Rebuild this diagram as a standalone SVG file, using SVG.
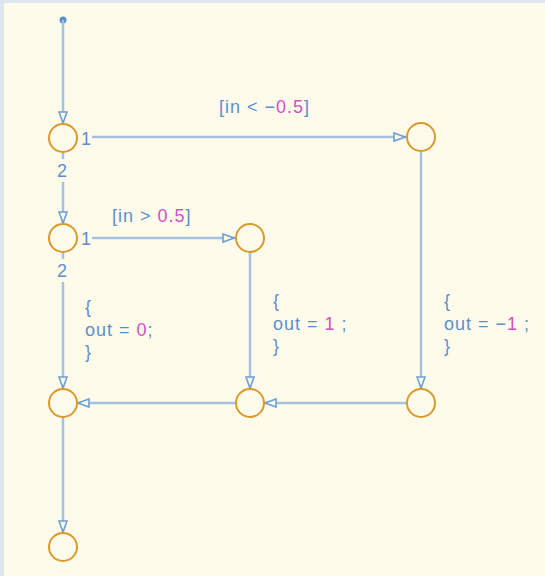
<svg xmlns="http://www.w3.org/2000/svg" width="545" height="576" viewBox="0 0 545 576">
<defs>
<style>
.bg{fill:#fffbeb}
.frame{fill:#dde5f1}
.j{fill:none;stroke:#d99a2b;stroke-width:2}
.t{fill:none;stroke:#a3c2e2;stroke-width:2.5}
.lbl{font-family:"Liberation Sans",Arial,sans-serif;font-size:18px;letter-spacing:1px;fill:#5b8fcc}
.num{fill:#d24fc4}
</style>
<marker id="ah" viewBox="0 0 13 11" refX="13" refY="5.5" markerWidth="13" markerHeight="11" markerUnits="userSpaceOnUse" orient="auto">
<path d="M1,1.5 L12,5.5 L1,9.5 Z" fill="#fffbeb" stroke="#6d9fd4" stroke-width="1.6"/>
</marker>
</defs>
<rect class="frame" x="0" y="0" width="545" height="576"/>
<rect class="bg" x="4" y="3" width="541" height="573"/>
<g id="connectors">
<circle cx="63" cy="20" r="3.5" fill="#5b8fcc"/>
<line class="t" x1="63" y1="20" x2="63" y2="124" marker-end="url(#ah)"/>
<line class="t" x1="92" y1="137" x2="406" y2="137" marker-end="url(#ah)"/>
<line class="t" x1="63" y1="152" x2="63" y2="159"/>
<line class="t" x1="63" y1="182" x2="63" y2="224" marker-end="url(#ah)"/>
<line class="t" x1="92" y1="238" x2="235" y2="238" marker-end="url(#ah)"/>
<line class="t" x1="63" y1="252" x2="63" y2="259"/>
<line class="t" x1="63" y1="282" x2="63" y2="389" marker-end="url(#ah)"/>
<line class="t" x1="250" y1="252" x2="250" y2="389" marker-end="url(#ah)"/>
<line class="t" x1="421" y1="151" x2="421" y2="389" marker-end="url(#ah)"/>
<line class="t" x1="407" y1="403" x2="264" y2="403" marker-end="url(#ah)"/>
<line class="t" x1="236" y1="403" x2="77" y2="403" marker-end="url(#ah)"/>
<line class="t" x1="63" y1="417" x2="63" y2="533" marker-end="url(#ah)"/>
<text class="lbl" x="219" y="113">[in &lt; −<tspan class="num">0.5</tspan>]</text>
<text class="lbl" x="81" y="145">1</text>
<text class="lbl" x="57" y="177">2</text>
<text class="lbl" x="112" y="222">[in &gt; <tspan class="num">0.5</tspan>]</text>
<text class="lbl" x="81" y="245">1</text>
<text class="lbl" x="57" y="277">2</text>
<text class="lbl" x="85" y="313">{</text>
<text class="lbl" x="85" y="336">out = <tspan class="num">0</tspan>;</text>
<text class="lbl" x="85" y="358">}</text>
<text class="lbl" x="273" y="307">{</text>
<text class="lbl" x="273" y="330">out = <tspan class="num">1</tspan> ;</text>
<text class="lbl" x="273" y="352">}</text>
<text class="lbl" x="444" y="307">{</text>
<text class="lbl" x="444" y="330">out = −<tspan class="num">1</tspan> ;</text>
<text class="lbl" x="444" y="352">}</text>
</g>
<g id="junctionA"><circle class="j" cx="63" cy="138" r="14"/></g>
<g id="junctionB"><circle class="j" cx="63" cy="238" r="14"/></g>
<g id="junctionC"><circle class="j" cx="250" cy="238" r="14"/></g>
<g id="junctionTR"><circle class="j" cx="421" cy="137" r="14"/></g>
<g id="junctionD"><circle class="j" cx="63" cy="403" r="14"/></g>
<g id="junctionE"><circle class="j" cx="250" cy="403" r="14"/></g>
<g id="junctionF"><circle class="j" cx="421" cy="403" r="14"/></g>
<g id="junctionG"><circle class="j" cx="63" cy="547" r="14"/></g>
</svg>
